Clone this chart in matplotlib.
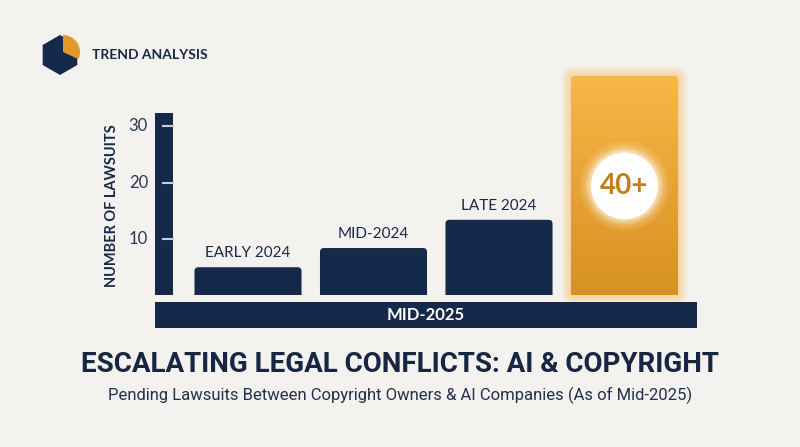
import numpy as np
import matplotlib.pyplot as plt
from matplotlib.patches import FancyBboxPatch, Rectangle, RegularPolygon, Wedge
from matplotlib.colors import LinearSegmentedColormap

periods = ['EARLY 2024', 'MID-2024', 'LATE 2024', 'MID-2025']
lawsuits = [5, 8.4, 13.4, 38.8]
highlight_label = '40+'
yticks = [10, 20, 30]

navy = '#15294B'
bg = '#F3F2EE'
text_col = '#1A2947'

plt.rcParams['font.family'] = ['Lato', 'DejaVu Sans']

fig = plt.figure(figsize=(8, 4.47), dpi=100, facecolor=bg)

# pixel-space layer for logo and titles
deco = fig.add_axes([0, 0, 1, 1])
deco.set_xlim(0, 800)
deco.set_ylim(447, 0)
deco.axis('off')

ax = fig.add_axes([0.19375, 0.339, 0.68125, 0.5269])
ax.set_xlim(-0.741, 3.6016)
ax.set_ylim(0, 41.7)
ax.axis('off')
px_x = 545 / (3.6016 + 0.741)   # pixels per x unit
px_y = 0.5269 * 447 / 41.7      # pixels per y unit
x0 = -0.741

x = np.arange(len(periods))
bars = ax.bar(x, lawsuits, width=0.853, color=navy)
for i, b in enumerate(bars):
    b.set_visible(False)
    bx, bw, bh = b.get_x(), b.get_width(), b.get_height()
    last = i == len(bars) - 1
    patch = FancyBboxPatch((bx, -2), bw, bh + 2,
                           boxstyle=f"round,pad=0,rounding_size={4 / px_x}",
                           mutation_aspect=px_x / px_y,
                           facecolor=navy if not last else '#E9A531',
                           edgecolor='none', zorder=3)
    ax.add_patch(patch)
    if last:
        # soft glow
        for k in range(1, 11):
            g = FancyBboxPatch((bx, 0), bw, bh,
                               boxstyle=f"round,pad={k / px_x},rounding_size={(4 + k) / px_x}",
                               mutation_aspect=px_x / px_y,
                               facecolor='#F6BE55', edgecolor='none',
                               alpha=0.06, zorder=2, clip_on=False)
            ax.add_patch(g)
        grad = np.linspace(0, 1, 200).reshape(-1, 1)
        cmap = LinearSegmentedColormap.from_list('g', ['#F7B848', '#E7A233', '#D38F20'])
        im = ax.imshow(grad, extent=(bx, bx + bw, -2, bh), cmap=cmap,
                       aspect='auto', zorder=4, origin='upper')
        im.set_clip_path(patch)
        # glowing white circle with label
        for s, a in [(4200, 0.10), (3600, 0.15), (3100, 0.25), (2700, 0.4)]:
            ax.scatter([i], [bh / 2], s=s, color='#FFF6E0', alpha=a,
                       edgecolors='none', zorder=5)
        ax.scatter([i], [bh / 2], s=2330, color='white', edgecolors='none', zorder=6)
        ax.text(i, bh / 2, highlight_label, ha='center', va='center',
                fontsize=20, fontweight='bold', color='#C07F1A', zorder=7)
    else:
        ax.annotate(periods[i], (i, bh), xytext=(0, 5), textcoords='offset points',
                    ha='center', va='bottom', fontsize=11, color=text_col)
ax.set_xlim(-0.741, 3.6016)
ax.set_ylim(0, 41.7)

# thick y axis bar with ticks
ax.add_patch(Rectangle((x0, 0), 18 / px_x, 32.3, facecolor=navy,
                       edgecolor='none', clip_on=False, zorder=3))
for t in yticks:
    ax.plot([x0 + 8 / px_x, x0 + 18 / px_x], [t, t], color='#C9CED8',
            lw=1.5, clip_on=False, zorder=4)
    ax.text(x0 - 7 / px_x, t, str(t), ha='right', va='center',
            fontsize=12, color='#2A3854')
deco.text(112, 206, 'NUMBER OF LAWSUITS', rotation=90, ha='center', va='center',
          fontsize=10.5, fontweight='bold', color=text_col)

# bottom banner
ban_w = (697 - 155) / px_x
ax.add_patch(Rectangle((x0, -5.75), ban_w, 4.6, facecolor=navy,
                       edgecolor='none', clip_on=False, zorder=3))
ax.text(x0 + ban_w / 2, -3.45, periods[-1], ha='center', va='center',
        fontsize=12, fontweight='bold', color='white', zorder=4)

# logo
deco.add_patch(RegularPolygon((60, 55), 6, radius=20, orientation=0,
                              facecolor=navy, edgecolor='none'))
deco.add_patch(Wedge((63, 52), 17, -90, 25, facecolor='#E09A2A', edgecolor='none'))
deco.text(92, 55, 'TREND ANALYSIS', ha='left', va='center', fontsize=10,
          fontweight='bold', color=text_col)

# titles
deco.text(400, 364, 'ESCALATING LEGAL CONFLICTS: AI & COPYRIGHT', ha='center',
          va='center', fontsize=20, fontweight='bold', color='#172642',
          family=['Roboto', 'DejaVu Sans'])
deco.text(400, 395, 'Pending Lawsuits Between Copyright Owners & AI Companies (As of Mid-2025)',
          ha='center', va='center', fontsize=12, color='#22304A',
          family=['Roboto', 'DejaVu Sans'])

fig.savefig('out.png', dpi=100, facecolor=bg)
